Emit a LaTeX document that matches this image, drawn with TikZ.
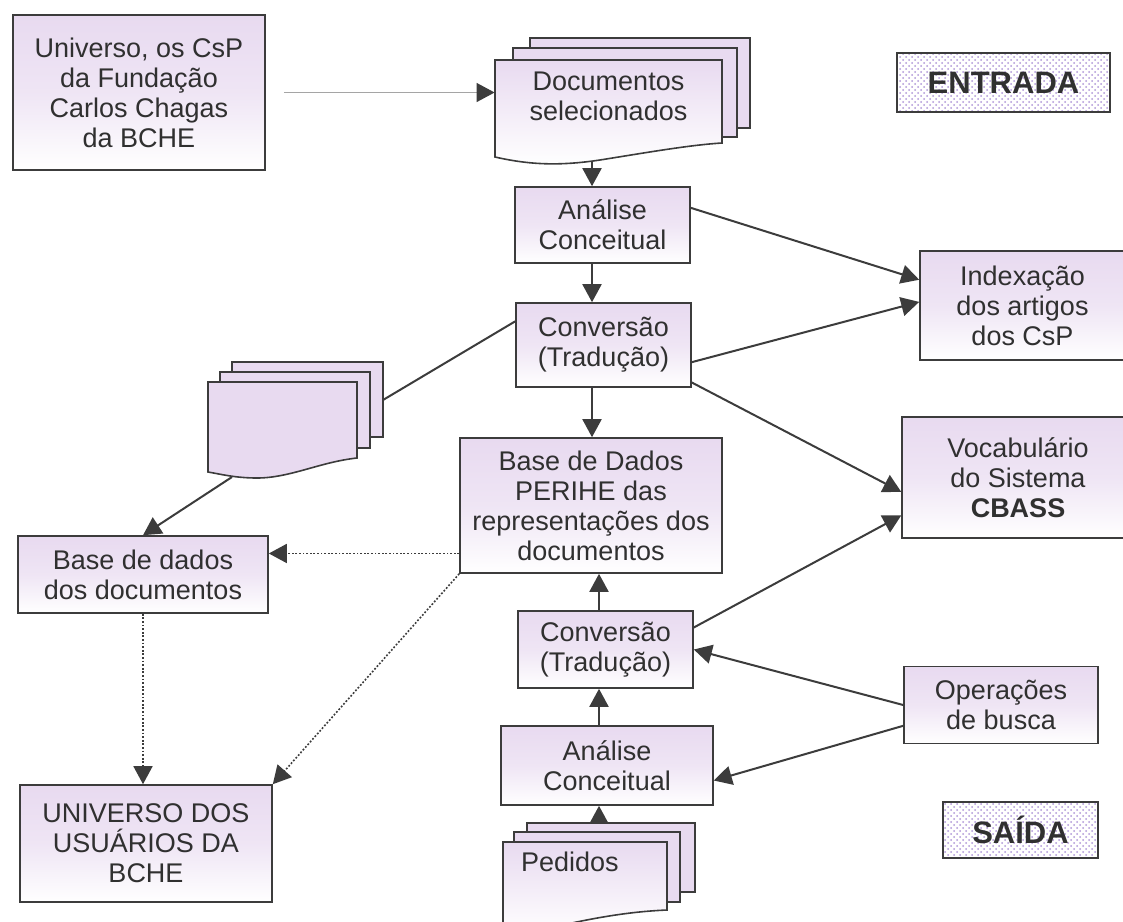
\documentclass[tikz,border=0pt]{standalone}
\usepackage{fontspec}
\setmainfont{Liberation Sans}
\usetikzlibrary{arrows.meta,patterns}
\definecolor{lav}{RGB}{232,218,240}
\definecolor{linec}{RGB}{60,60,60}
\definecolor{textc}{RGB}{48,48,48}
\definecolor{dotc}{RGB}{175,150,215}
\definecolor{thinc}{RGB}{165,165,165}
\tikzset{
  block/.style 2 args={draw=linec, line width=0.8pt, top color=lav, bottom color=white, middle color=lav!70,
    align=center, inner sep=0pt, minimum width=#1*0.5pt, minimum height=#2*0.5pt},
  iotag/.style={draw=linec, line width=0.8pt, pattern=crosshatch dots, pattern color=dotc, inner sep=0pt,
    font=\fontsize{15.5}{18}\selectfont\bfseries},
  sheet/.style={draw=linec, line width=0.8pt, fill=lav},
  link/.style={draw=linec, line width=1pt, ->},
  dlink/.style={link, line width=0.8pt, dash pattern=on 0.9pt off 0.9pt},
}
\begin{document}
\begin{tikzpicture}[x=0.5pt,y=-0.5pt,>={Triangle[length=9pt,width=9.5pt]},
  every node/.style={text=textc,font=\fontsize{13.5}{15}\selectfont}]
  \useasboundingbox (0,0) rectangle (1123,921);
  \clip (0,0) rectangle (1123,921);

  % input side
  \node[block={252}{155}] (univ) at (139,92.5) {Universo, os CsP\\da Fundação\\Carlos Chagas\\da BCHE};

  % selected documents (stack)
  \draw[sheet] (530,38) rectangle (750,128);
  \draw[sheet] (513,48) rectangle (737,137);
  \draw[sheet, top color=lav, bottom color=white] (495,60) -- (722,60) -- (722,143)
    .. controls (690,145) and (650,152) .. (600,160) .. controls (560,166) and (530,165) .. (495,157) -- cycle;
  \node[minimum width=113.5pt, minimum height=36pt, inner sep=0pt, align=center] (docsel) at (608.5,96) {Documentos\\selecionados};
  \coordinate (dsout) at (592,162);

  \node[iotag, minimum width=106.5pt, minimum height=29.5pt] (entrada) at (1003.5,82.5) {ENTRADA};

  \node[block={175}{76}] (anal1) at (602.5,225) {Análise\\Conceitual};
  \node[block={175}{84}] (conv1) at (603.5,345) {Conversão\\(Tradução)};
  \node[block={205}{109}] (index) at (1022.5,305.5) {Indexação\\dos artigos\\dos CsP};
  \node[block={232}{121}] (vocab) at (1018,477.5) {Vocabulário\\do Sistema\\\textbf{CBASS}};
  \node[block={262}{135}] (base) at (591,505.5) {Base de Dados\\PERIHE das\\representações dos\\documentos};

  % left stack
  \draw[sheet] (232,362) rectangle (383,437);
  \draw[sheet] (220,372) rectangle (370,448);
  \draw[sheet] (208,382) -- (357,382) -- (357,458)
    .. controls (320,462) and (290,478) .. (257,478) .. controls (235,478) and (220,474) .. (208,472) -- cycle;
  \coordinate (d2in) at (383,400);
  \coordinate (d2out) at (232,477);

  \node[block={250}{77}] (bdd) at (143,574.5) {Base de dados\\dos documentos};
  \node[block={252}{117}] (users) at (146,843.5) {UNIVERSO DOS\\USUÁRIOS DA\\BCHE};

  % output side
  \node[block={175}{77}] (conv2) at (605.5,649.5) {Conversão\\(Tradução)};
  \node[block={212}{79}] (anal2) at (607,765.5) {Análise\\Conceitual};
  \node[block={194}{77}] (oper) at (1001,705) {Operações\\de busca};
  \node[iotag, minimum width=77.5pt, minimum height=28pt] (saida) at (1020.5,830) {SAÍDA};

  % requests (stack)
  \draw[sheet] (527,823) rectangle (695,892);
  \draw[sheet] (514,832) rectangle (680,902);
  \draw[sheet, top color=lav, bottom color=white] (503,842) -- (667,842) -- (667,910)
    .. controls (620,912) and (580,921) .. (540,930) -- (503,935) -- cycle;
  \node[anchor=west] (ped) at (514,862) {Pedidos};
  \coordinate (pedtop) at (599,823);

  % connectors
  \draw[draw=thinc, line width=0.6pt, -{Triangle[length=9pt,width=9.5pt,color=linec]}, shorten <=9pt]
    (univ.east) -- (univ.east -| docsel.west);
  \draw[link] (dsout) -- (dsout |- anal1.north);
  \draw[link] (anal1.south -| dsout) -- (conv1.north -| dsout);
  \draw[link] (conv1.south -| dsout) -- (base.north -| dsout);
  \draw[link] (anal1.11) -- (index.166);
  \draw[link] (conv1.349) -- (index.178);
  \draw[link] (conv1.337) -- (vocab.187);
  \draw[link] (conv2.14) -- (vocab.198);
  \draw[link] (conv2.north -| pedtop) -- (base.south -| pedtop);
  \draw[link] (anal2.north -| pedtop) -- (conv2.south -| pedtop);
  \draw[link] (pedtop) -- (anal2.south -| pedtop);
  \draw[link] (oper.west) -- (conv2.east);
  \draw[link] (oper.192) -- (anal2.352);
  \draw[draw=linec, line width=1pt] (conv1.165) -- (d2in);
  \draw[link] (d2out) -- (bdd.north);
  \draw[dlink] (base.200) -- (base.200 -| bdd.east);
  \draw[dlink] (base.south west) -- (users.north east);
  \draw[dlink] (bdd.south) -- (bdd.south |- users.north);
\end{tikzpicture}
\end{document}
